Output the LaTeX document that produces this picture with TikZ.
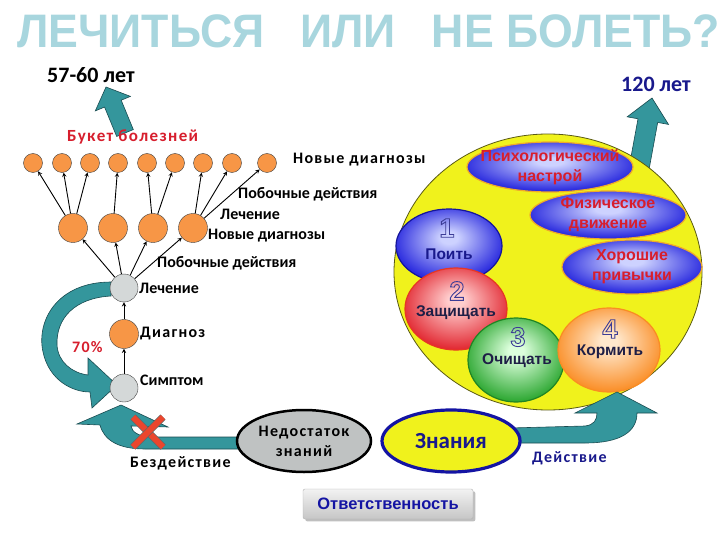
\documentclass[tikz,border=0pt]{standalone}
\usepackage{fontspec}
\setmainfont{Carlito}
\newfontfamily\arialfont{Liberation Sans}
\newfontfamily\titlefont[FakeStretch=0.95]{Liberation Sans}
\newfontfamily\lblfont[LetterSpace=8]{Carlito}
\usetikzlibrary{shapes.geometric, arrows, calc, shadows}

\definecolor{titlec}{RGB}{168,214,222}
\definecolor{tealc}{RGB}{52,150,156}
\definecolor{tealdark}{RGB}{25,75,80}
\definecolor{orangec}{RGB}{247,150,70}
\definecolor{grayc}{RGB}{212,216,216}
\definecolor{navyc}{RGB}{25,25,140}
\definecolor{darkc}{RGB}{30,30,70}
\definecolor{redc}{RGB}{215,30,45}
\definecolor{yellowc}{RGB}{240,242,28}
\definecolor{olivec}{RGB}{90,90,20}
\definecolor{bluein}{RGB}{205,210,255}
\definecolor{blueout}{RGB}{30,30,220}
\definecolor{redin}{RGB}{255,205,205}
\definecolor{redout}{RGB}{225,35,45}
\definecolor{greenin}{RGB}{220,255,220}
\definecolor{greenout}{RGB}{40,165,45}
\definecolor{orangein}{RGB}{255,232,205}
\definecolor{orangeout}{RGB}{250,140,35}
\definecolor{goldc}{RGB}{240,170,40}
\definecolor{digitc}{RGB}{60,60,150}
\definecolor{crossc}{RGB}{235,70,45}

\colorlet{glowin}{white}
\colorlet{glowout}{blue}
\pgfdeclareradialshading[glowin,glowout]{glow}{\pgfpoint{0bp}{6bp}}{color(0bp)=(glowin); color(4bp)=(glowin); color(28bp)=(glowout); color(50bp)=(glowout)}
\tikzset{glow in/.code={\colorlet{glowin}{#1}}, glow out/.code={\colorlet{glowout}{#1}}}

% outlined digits: stroke only
\newcommand{\hollow}[1]{\special{pdf:literal 1 Tr 0.9 w}#1\special{pdf:literal 0 Tr}}

\tikzstyle{small} = [circle, minimum size=19pt, inner sep=0pt, draw=black!75, fill=orangec]
\tikzstyle{mid} = [circle, minimum size=29pt, inner sep=0pt, draw=black!75, fill=orangec]
\tikzstyle{stage} = [circle, minimum size=28pt, inner sep=0pt, draw=black!75, fill=grayc]
\tikzstyle{lbl} = [anchor=west, inner sep=0pt, font=\bfseries\fontsize{16}{18}\selectfont]
\tikzstyle{wide} = [anchor=west, inner sep=0pt, font=\lblfont\bfseries\fontsize{16}{18}\selectfont]
\tikzstyle{arrow} = [->, >=stealth, line width=0.9pt]
\tikzstyle{bigarrow} = [fill=tealc, draw=tealdark, line width=0.6pt]
\tikzstyle{blob} = [ellipse, inner sep=0pt, line width=1.2pt, shade, shading=glow]
\tikzstyle{blobtext} = [align=center, inner sep=0pt, font=\arialfont\bfseries\fontsize{16}{20}\selectfont]
\tikzstyle{balltext} = [inner sep=0pt, font=\arialfont\bfseries\fontsize{15.5}{18}\selectfont]
\tikzstyle{digit} = [inner sep=0pt, text=digitc, font=\arialfont\bfseries\fontsize{27}{28}\selectfont]

% fat teal arrow: tail, tip, shaft half width, head half width, head length
\newcommand{\fatarrow}[5]{%
  \coordinate (fa-b) at ($(#2)!#5!(#1)$);
  \filldraw[bigarrow] ($(#1)!#3!90:(#2)$) -- ($(fa-b)!#3!-90:(#1)$) -- ($(fa-b)!#4!-90:(#1)$)
    -- (#2) -- ($(fa-b)!#4!90:(#1)$) -- ($(fa-b)!#3!90:(#1)$) -- ($(#1)!#3!-90:(#2)$) -- cycle;}

\begin{document}
\begin{tikzpicture}[x=1pt, y=-1pt]
\useasboundingbox[fill=white] (0,0) rectangle (720,540);

\node (title) [anchor=west, inner sep=0pt, text=titlec, font=\titlefont\bfseries\fontsize{47}{50}\selectfont]
  at (17,31) {ЛЕЧИТЬСЯ\hspace{36pt}ИЛИ\hspace{36pt}НЕ БОЛЕТЬ?};

% ages
\node (short) [lbl, font=\bfseries\fontsize{22}{24}\selectfont] at (47,75) {57-60 лет};
\node (long) [lbl, text=navyc, font=\bfseries\fontsize{22}{24}\selectfont] at (621,84) {120 лет};
\coordinate (shorttail) at (125,133);
\coordinate (shorttip) at (106,87);
\fatarrow{shorttail}{shorttip}{9pt}{19pt}{18pt}
\coordinate (longtail) at (636,185);
\coordinate (longtip) at (652,98);
\fatarrow{longtail}{longtip}{10pt}{21pt}{23pt}

% healthy side
\node (health) [ellipse, minimum width=308pt, minimum height=276pt, fill=yellowc, draw=olivec, line width=0.8pt] at (548,272) {};
\node (psych) [blob, minimum width=166pt, minimum height=50pt, glow in=bluein, glow out=blueout, draw=goldc] at (550,167) {};
\node (psycht) [blobtext, text=redc] at (psych) {Психологический\\настрой};
\node (move) [blob, minimum width=156pt, minimum height=48pt, glow in=bluein, glow out=blueout, draw=goldc] at (608,215) {};
\node (movet) [blobtext, text=redc] at (move) {Физическое\\движение};
\node (habit) [blob, minimum width=140pt, minimum height=54pt, glow in=bluein, glow out=blueout, draw=goldc] at (632,267) {};
\node (habitt) [blobtext, text=redc] at (habit) {Хорошие\\привычки};

\node (drink) [blob, minimum width=106pt, minimum height=74pt, glow in=bluein, glow out=blueout, draw=blueout!70!black] at (449,246) {};
\node (one) [digit] at (447,228) {\hollow{1}};
\node (drinkt) [balltext, text=navyc] at (449,254) {Поить};
\node (guard) [blob, minimum width=102pt, minimum height=82pt, glow in=redin, glow out=redout, draw=redout!80!orange] at (456,309) {};
\node (two) [digit] at (457,291) {\hollow{2}};
\node (guardt) [balltext, text=darkc] at (456,313) {Защищать};
\node (clean) [blob, minimum width=96pt, minimum height=84pt, glow in=greenin, glow out=greenout, draw=greenout!80!black] at (516,360) {};
\node (three) [digit] at (518,337) {\hollow{3}};
\node (cleant) [balltext, text=darkc] at (517,361) {Очищать};
\node (feed) [blob, minimum width=102pt, minimum height=84pt, glow in=orangein, glow out=orangeout, draw=orangeout] at (609,350) {};
\node (four) [digit] at (610,329) {\hollow{4}};
\node (feedt) [balltext, text=darkc] at (610,352) {Кормить};

% curved arrow back to the symptom
\filldraw[bigarrow] (111,282) .. controls (58,282) and (36,320) .. (43,352) .. controls (49,380) and (72,392) .. (90,392)
  -- (92,408) -- (117,385) -- (88,358) -- (88,375) .. controls (72,373) and (58,362) .. (57,345)
  .. controls (56,318) and (75,298) .. (111,296) -- cycle;

% treatment tree
\node (symptom) [stage] at (124,388) {};
\node (diag) [mid] at (124,334) {};
\node (treat) [stage] at (124,288) {};
\foreach \i/\x in {1/73,2/113,3/153,4/193}
  \node (mid\i) [mid] at (\x,228) {};
\foreach \i/\x in {1/33,2/62,3/90,4/118,5/147,6/175,7/203,8/232,9/267}
  \node (top\i) [small] at (\x,163) {};
\draw [arrow] (symptom) -- (diag);
\draw [arrow] (diag) -- (treat);
\foreach \i in {1,...,4}
  \draw [arrow] (treat) -- (mid\i);
\foreach \a/\b in {1/1,1/2,1/3,2/4,3/5,3/6,4/7,4/8,4/9}
  \draw [arrow] (mid\a) -- (top\b);

\node (bunch) [wide, text=redc, font=\lblfont\bfseries\fontsize{17}{19}\selectfont] at (67,137) {Букет болезней};
\node (new1) [wide] at (293,160) {Новые диагнозы};
\node (side1) [lbl] at (238,194) {Побочные действия};
\node (cure1) [lbl] at (220,214) {Лечение};
\node (new2) [lbl] at (208,236) {Новые диагнозы};
\node (side2) [lbl] at (157,263) {Побочные действия};
\node (cure2) [lbl] at (139,288) {Лечение};
\node (diagt) [wide] at (140,334) {Диагноз};
\node (pct) [wide, text=redc] at (72,347) {70\%};
\node (symptomt) [lbl] at (140,380) {Симптом};

% bottom bands
\filldraw[bigarrow] (245,437) -- (150,437) .. controls (138,436) and (132,432) .. (131,426) -- (168,427) -- (121,405)
  -- (77,424) -- (100,425) .. controls (104,440) and (118,449) .. (145,449) -- (245,449) -- cycle;
\filldraw[bigarrow] (510,428) -- (585,426) .. controls (594,425) and (597,420) .. (597,413) -- (575,413) -- (617,392)
  -- (657,413) -- (637,413) .. controls (637,432) and (620,443) .. (585,443) -- (510,443) -- cycle;

\node (lack) [ellipse, minimum width=134pt, minimum height=62pt, inner sep=0pt, fill=grayc!90!black, draw=black, line width=2.5pt,
  align=center, font=\lblfont\bfseries\fontsize{16}{20}\selectfont] at (304,441) {Недостаток\\знаний};
\node (know) [ellipse, minimum width=138pt, minimum height=62pt, inner sep=0pt, fill=yellowc, draw=navyc!80!blue, line width=3.2pt,
  text=navyc, font=\bfseries\fontsize{23}{25}\selectfont] at (451,441) {Знания};

\coordinate (nox) at (148,432);
\draw[double=crossc, double distance=6pt, draw=black!60, line width=0.6pt] ($(nox)+(-15,-15)$) -- ($(nox)+(15,15)$);
\draw[double=crossc, double distance=6pt, draw=black!60, line width=0.6pt] ($(nox)+(15,-15)$) -- ($(nox)+(-15,15)$);

\node (idle) [wide] at (130,463) {Бездействие};
\node (act) [wide, text=navyc] at (532,458) {Действие};

\node (duty) [rounded corners=2pt, minimum width=170pt, minimum height=30pt, top color=gray!10, bottom color=gray!45,
  draw=gray!60, drop shadow, text=navyc!80!blue, font=\arialfont\bfseries\fontsize{16.5}{18}\selectfont] at (388,504) {Ответственность};
\end{tikzpicture}
\end{document}
